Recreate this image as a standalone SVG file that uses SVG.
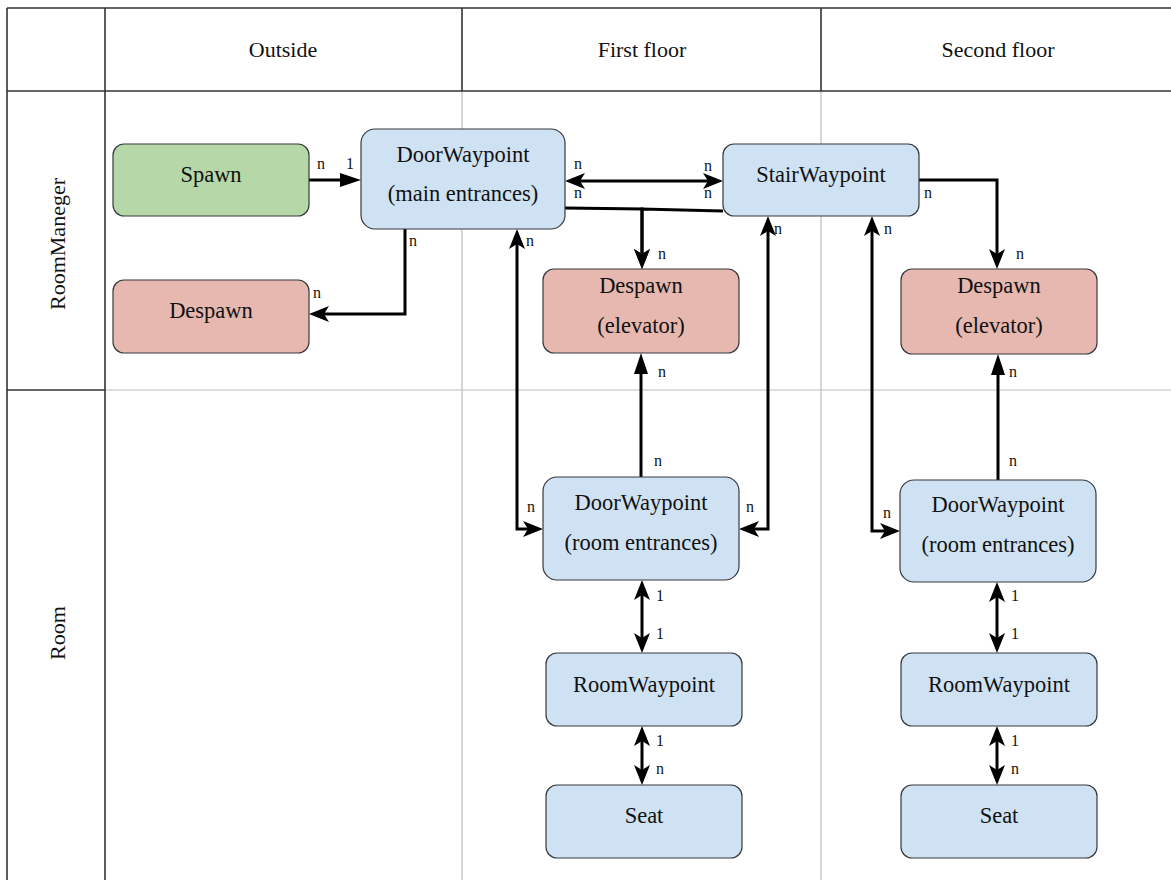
<svg xmlns="http://www.w3.org/2000/svg" width="1171" height="880" viewBox="0 0 1171 880">
<style>
.bg{fill:#ffffff}
.hd{stroke:#333333;stroke-width:1.6;fill:none}
.lt{stroke:#bdbdbd;stroke-width:1.2;fill:none}
.node rect{stroke:#36393d;stroke-width:1.2}
.blue{fill:#cfe2f3}
.green{fill:#b6d7a8}
.red{fill:#e6b8af}
text{font-family:"Liberation Serif","Times New Roman",serif;fill:#111111}
.nt{font-size:22.5px;text-anchor:middle}
.ht{font-size:22px;text-anchor:middle}
.lb{font-size:16px;text-anchor:middle}
.edge{stroke:#000000;stroke-width:3;fill:none}
</style>
<defs>
<marker id="cls" markerUnits="userSpaceOnUse" markerWidth="20" markerHeight="16" refX="8" refY="8" orient="auto-start-reverse" viewBox="0 0 20 16">
<path d="M20,8 L0,0 L5,8 L0,16 Z" fill="#000"/>
</marker>
<marker id="blk" markerUnits="userSpaceOnUse" markerWidth="21" markerHeight="14" refX="9" refY="7" orient="auto-start-reverse" viewBox="0 0 21 14">
<path d="M21,7 L0,0 L0,14 Z" fill="#000"/>
</marker>
</defs>
<rect class="bg" x="0" y="0" width="1171" height="880"/>
<g id="table">
<line class="lt" x1="462" y1="91" x2="462" y2="880"/>
<line class="lt" x1="821" y1="91" x2="821" y2="880"/>
<line class="lt" x1="105" y1="390" x2="1171" y2="390"/>
<line class="hd" x1="7" y1="8" x2="1171" y2="8"/>
<line class="hd" x1="7" y1="91" x2="1171" y2="91"/>
<line class="hd" x1="7" y1="8" x2="7" y2="880"/>
<line class="hd" x1="105" y1="8" x2="105" y2="880"/>
<line class="hd" x1="462" y1="8" x2="462" y2="91"/>
<line class="hd" x1="821" y1="8" x2="821" y2="91"/>
<line class="hd" x1="7" y1="390" x2="105" y2="390"/>
<text class="ht" x="283" y="57">Outside</text>
<text class="ht" x="642" y="57">First floor</text>
<text class="ht" x="998" y="57">Second floor</text>
<text class="ht" transform="translate(65,244) rotate(-90)">RoomManeger</text>
<text class="ht" transform="translate(65,633) rotate(-90)">Room</text>
</g>
<g id="connectors">
<path class="edge" d="M309,180 L349,180" marker-end="url(#blk)"/>
<path class="edge" d="M577,181 L711,181" marker-start="url(#cls)" marker-end="url(#cls)"/>
<path class="edge" d="M405,229 L405,314 L321,314" marker-end="url(#cls)"/>
<path class="edge" d="M565,208 L642,209 L642,257" marker-end="url(#cls)"/>
<path class="edge" d="M723,211 L642,209 L642,257" marker-end="url(#cls)"/>
<path class="edge" d="M919,180 L997,180 L997,257" marker-end="url(#cls)"/>
<path class="edge" d="M517,241 L517,529 L531,529" marker-start="url(#cls)" marker-end="url(#cls)"/>
<path class="edge" d="M768,228 L768,529 L751,529" marker-start="url(#cls)" marker-end="url(#cls)"/>
<path class="edge" d="M872,228 L872,531 L888,531" marker-start="url(#cls)" marker-end="url(#cls)"/>
<path class="edge" d="M641,477 L641,365" marker-end="url(#blk)"/>
<path class="edge" d="M998,480 L998,366" marker-end="url(#blk)"/>
<path class="edge" d="M642,592 L642,641" marker-start="url(#cls)" marker-end="url(#cls)"/>
<path class="edge" d="M642,738 L642,773" marker-start="url(#cls)" marker-end="url(#cls)"/>
<path class="edge" d="M997,594 L997,641" marker-start="url(#cls)" marker-end="url(#cls)"/>
<path class="edge" d="M997,738 L997,773" marker-start="url(#cls)" marker-end="url(#cls)"/>
<text class="lb" x="321" y="169">n</text>
<text class="lb" x="350" y="169">1</text>
<text class="lb" x="578" y="169">n</text>
<text class="lb" x="708" y="171">n</text>
<text class="lb" x="578" y="198">n</text>
<text class="lb" x="708" y="198">n</text>
<text class="lb" x="928" y="198">n</text>
<text class="lb" x="413" y="246">n</text>
<text class="lb" x="317" y="298">n</text>
<text class="lb" x="530" y="246">n</text>
<text class="lb" x="778" y="234">n</text>
<text class="lb" x="888" y="234">n</text>
<text class="lb" x="662" y="259">n</text>
<text class="lb" x="1020" y="259">n</text>
<text class="lb" x="662" y="377">n</text>
<text class="lb" x="1013" y="377">n</text>
<text class="lb" x="658" y="466">n</text>
<text class="lb" x="1013" y="466">n</text>
<text class="lb" x="531" y="512">n</text>
<text class="lb" x="750" y="512">n</text>
<text class="lb" x="887" y="518">n</text>
<text class="lb" x="660" y="601">1</text>
<text class="lb" x="660" y="639">1</text>
<text class="lb" x="660" y="746">1</text>
<text class="lb" x="660" y="774">n</text>
<text class="lb" x="1015" y="601">1</text>
<text class="lb" x="1015" y="639">1</text>
<text class="lb" x="1015" y="746">1</text>
<text class="lb" x="1015" y="774">n</text>
</g>
<g id="spawn" class="node"><rect class="green" x="113" y="144" width="196" height="72" rx="11"/><text class="nt" x="211" y="182">Spawn</text></g>
<g id="despawn" class="node"><rect class="red" x="113" y="280" width="196" height="73" rx="11"/><text class="nt" x="211" y="318">Despawn</text></g>
<g id="door-main" class="node"><rect class="blue" x="361" y="129" width="204" height="100" rx="14"/><text class="nt" x="463" y="162">DoorWaypoint</text><text class="nt" x="463" y="201">(main entrances)</text></g>
<g id="stair" class="node"><rect class="blue" x="723" y="144" width="196" height="72" rx="11"/><text class="nt" x="821" y="182">StairWaypoint</text></g>
<g id="despawn-elev-1" class="node"><rect class="red" x="543" y="269" width="196" height="84" rx="11"/><text class="nt" x="641" y="293">Despawn</text><text class="nt" x="641" y="333">(elevator)</text></g>
<g id="despawn-elev-2" class="node"><rect class="red" x="901" y="269" width="196" height="85" rx="11"/><text class="nt" x="999" y="293">Despawn</text><text class="nt" x="999" y="333">(elevator)</text></g>
<g id="door-room-1" class="node"><rect class="blue" x="543" y="477" width="196" height="103" rx="14"/><text class="nt" x="641" y="510">DoorWaypoint</text><text class="nt" x="641" y="550">(room entrances)</text></g>
<g id="door-room-2" class="node"><rect class="blue" x="900" y="480" width="196" height="102" rx="14"/><text class="nt" x="998" y="512">DoorWaypoint</text><text class="nt" x="998" y="552">(room entrances)</text></g>
<g id="room-1" class="node"><rect class="blue" x="546" y="653" width="196" height="73" rx="11"/><text class="nt" x="644" y="692">RoomWaypoint</text></g>
<g id="room-2" class="node"><rect class="blue" x="901" y="653" width="196" height="73" rx="11"/><text class="nt" x="999" y="692">RoomWaypoint</text></g>
<g id="seat-1" class="node"><rect class="blue" x="546" y="785" width="196" height="73" rx="11"/><text class="nt" x="644" y="823">Seat</text></g>
<g id="seat-2" class="node"><rect class="blue" x="901" y="785" width="196" height="73" rx="11"/><text class="nt" x="999" y="823">Seat</text></g>
</svg>
